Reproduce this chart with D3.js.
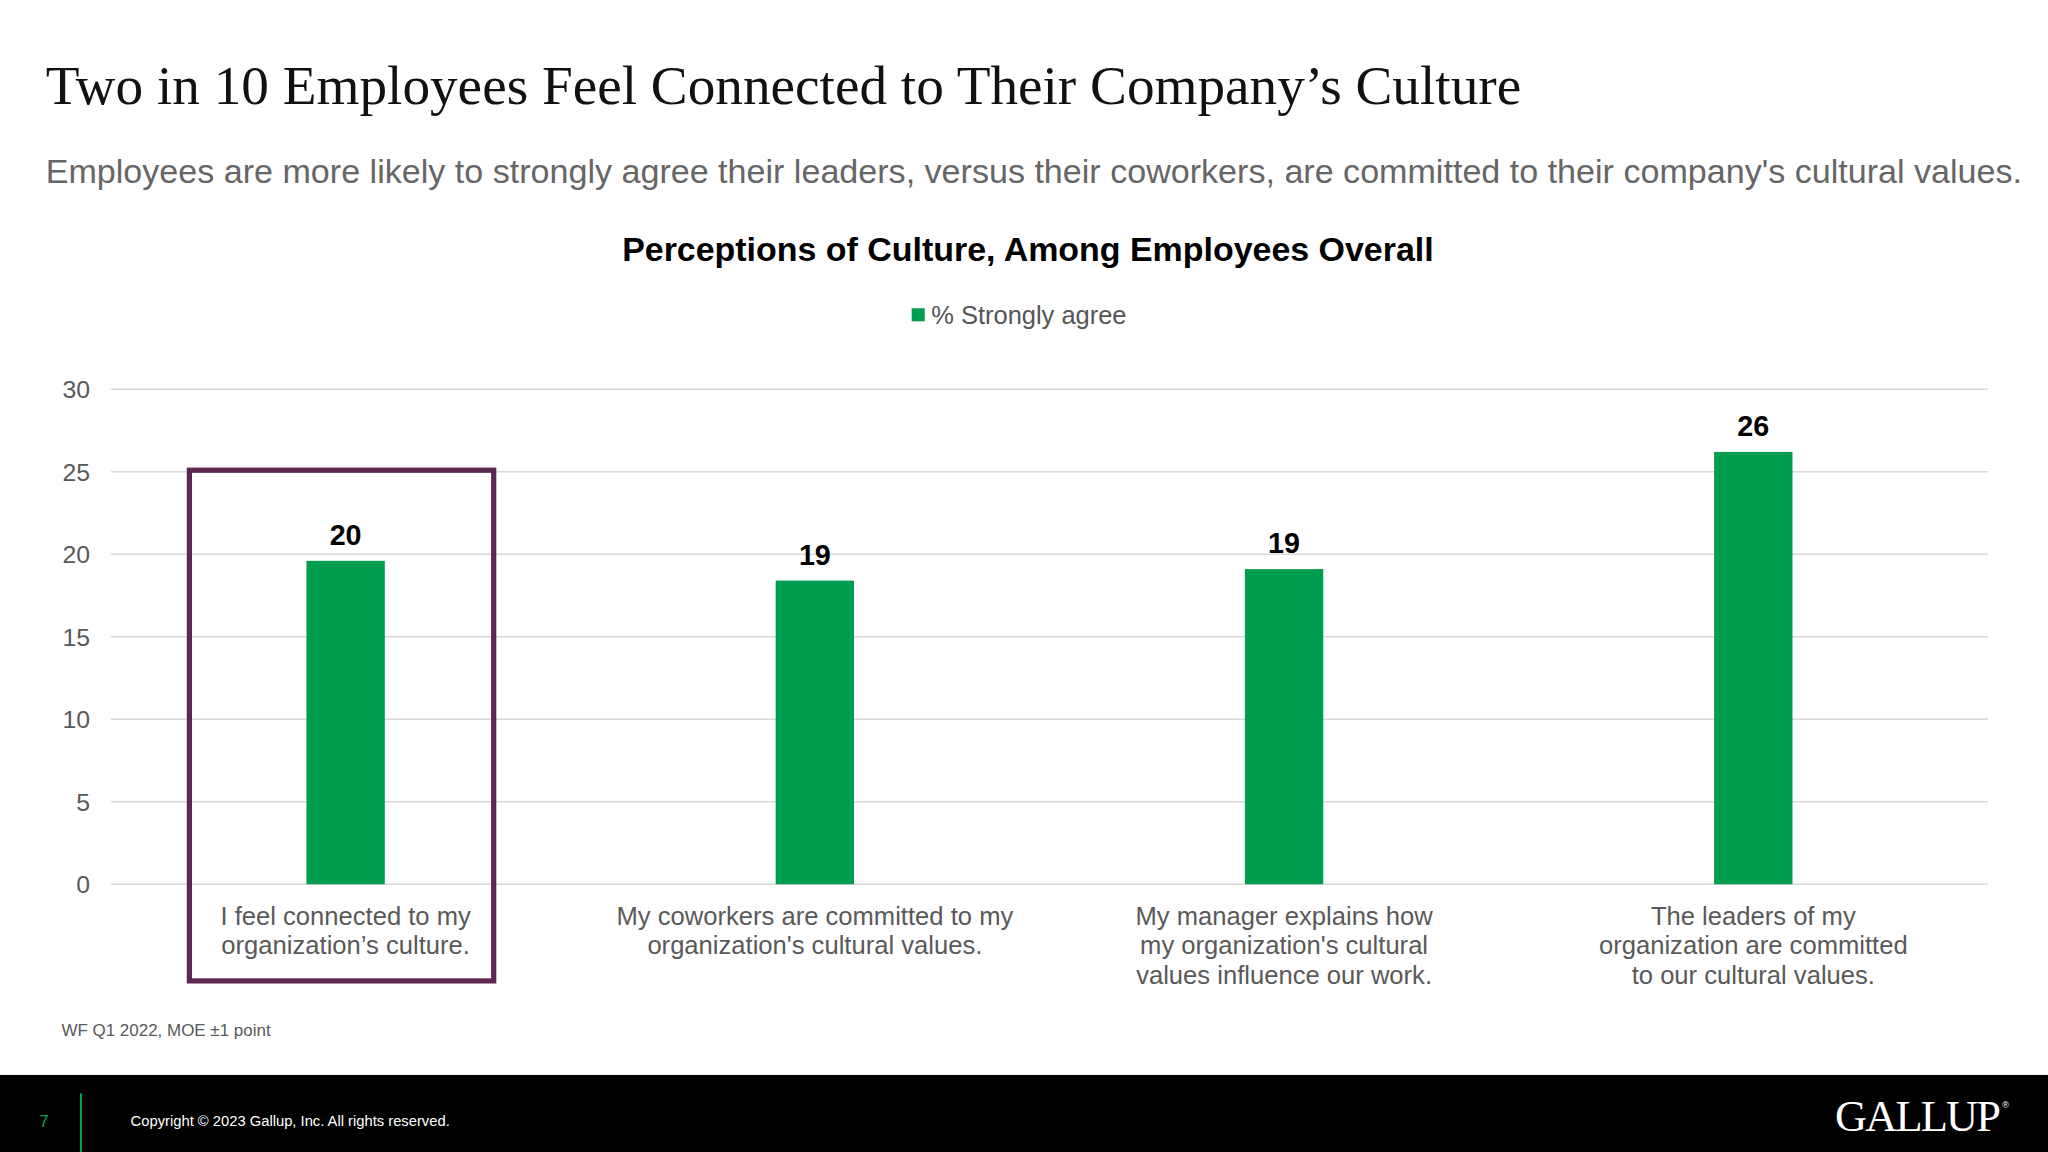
<!DOCTYPE html>
<html><head><meta charset="utf-8">
<script src="https://cdn.jsdelivr.net/npm/d3@7"></script>
<style>body{margin:0;background:#fff}svg{display:block}</style>
</head><body>
<svg id="chart"></svg>
<script>
const categories = [
  ["I feel connected to my", "organization’s culture."],
  ["My coworkers are committed to my", "organization's cultural values."],
  ["My manager explains how", "my organization's cultural", "values influence our work."],
  ["The leaders of my", "organization are committed", "to our cultural values."]
];
const values = [19.6, 18.4, 19.1, 26.2];
const labels = ["20", "19", "19", "26"];
const yTicks = [0, 5, 10, 15, 20, 25, 30];

const svg = d3.select('#chart')
  .attr('width', 2048).attr('height', 1152)
  .attr('viewBox', '0 0 1568 882');

svg.append('text').attr('x', 35).attr('y', 80)
  .attr('font-family', 'Liberation Serif, serif').attr('font-size', 42.3).attr('fill', '#111')
  .text('Two in 10 Employees Feel Connected to Their Company’s Culture');
svg.append('text').attr('x', 35).attr('y', 140)
  .attr('font-family', 'Liberation Sans, Arial, sans-serif').attr('font-size', 26.1).attr('fill', '#666')
  .text("Employees are more likely to strongly agree their leaders, versus their coworkers, are committed to their company's cultural values.");
svg.append('text').attr('x', 787).attr('y', 200).attr('text-anchor', 'middle')
  .attr('font-family', 'Liberation Sans, Arial, sans-serif').attr('font-size', 26).attr('font-weight', 'bold').attr('fill', '#000')
  .text('Perceptions of Culture, Among Employees Overall');

// legend
svg.append('rect').attr('x', 698).attr('y', 236).attr('width', 10).attr('height', 10).attr('fill', '#009d4f');
svg.append('text').attr('x', 713).attr('y', 248)
  .attr('font-family', 'Liberation Sans, Arial, sans-serif').attr('font-size', 19.5).attr('fill', '#555')
  .text('% Strongly agree');

const x = d3.scaleBand().domain(d3.range(categories.length)).range([85, 1522]);
const y = d3.scaleLinear().domain([0, 30]).range([677, 298]);

const grid = svg.append('g');
yTicks.forEach(t => {
  grid.append('line').attr('x1', 85).attr('x2', 1522).attr('y1', y(t)).attr('y2', y(t))
    .attr('stroke', '#d9d9d9').attr('stroke-width', 1.3);
  grid.append('text').attr('x', 69).attr('y', y(t) + 7).attr('text-anchor', 'end')
    .attr('font-family', 'Liberation Sans, Arial, sans-serif').attr('font-size', 19).attr('fill', '#595959')
    .text(t);
});

const bw = 60;
svg.append('g').selectAll('rect').data(values).enter().append('rect')
  .attr('x', (d, i) => x(i) + x.bandwidth() / 2 - bw / 2)
  .attr('y', d => y(d)).attr('width', bw).attr('height', d => y(0) - y(d))
  .attr('fill', '#009d4f');

svg.append('g').selectAll('text').data(values).enter().append('text')
  .attr('x', (d, i) => x(i) + x.bandwidth() / 2).attr('y', d => y(d) - 12)
  .attr('text-anchor', 'middle')
  .attr('font-family', 'Liberation Sans, Arial, sans-serif').attr('font-size', 22).attr('font-weight', 'bold')
  .text((d, i) => labels[i]);

categories.forEach((lines, i) => {
  const t = svg.append('text').attr('text-anchor', 'middle')
    .attr('font-family', 'Liberation Sans, Arial, sans-serif').attr('font-size', 19.6).attr('fill', '#595959');
  lines.forEach((l, j) => t.append('tspan').attr('x', x(i) + x.bandwidth() / 2).attr('y', 708 + j * 22.5).text(l));
});

// highlight box
svg.append('rect').attr('x', 145).attr('y', 360).attr('width', 233).attr('height', 391)
  .attr('fill', 'none').attr('stroke', '#5c2751').attr('stroke-width', 4);

svg.append('text').attr('x', 47).attr('y', 793)
  .attr('font-family', 'Liberation Sans, Arial, sans-serif').attr('font-size', 13).attr('fill', '#595959')
  .text('WF Q1 2022, MOE ±1 point');

// footer
svg.append('rect').attr('x', 0).attr('y', 823).attr('width', 1568).attr('height', 59).attr('fill', '#000');
svg.append('line').attr('x1', 62).attr('x2', 62).attr('y1', 837).attr('y2', 882).attr('stroke', '#00a651').attr('stroke-width', 1.5);
svg.append('text').attr('x', 30).attr('y', 863).attr('font-family', 'Liberation Sans, Arial, sans-serif')
  .attr('font-size', 13).attr('fill', '#00a651').text('7');
svg.append('text').attr('x', 100).attr('y', 862).attr('font-family', 'Liberation Sans, Arial, sans-serif')
  .attr('font-size', 11.3).attr('fill', '#fff').text('Copyright © 2023 Gallup, Inc. All rights reserved.');
svg.append('text').attr('x', 1405).attr('y', 866).attr('font-family', 'Liberation Serif, serif')
  .attr('font-size', 34).attr('textLength', 127).attr('fill', '#fff').text('GALLUP');
svg.append('text').attr('x', 1533).attr('y', 848).attr('font-family', 'Liberation Sans, sans-serif')
  .attr('font-size', 7).attr('fill', '#fff').text('®');
</script>
</body></html>
